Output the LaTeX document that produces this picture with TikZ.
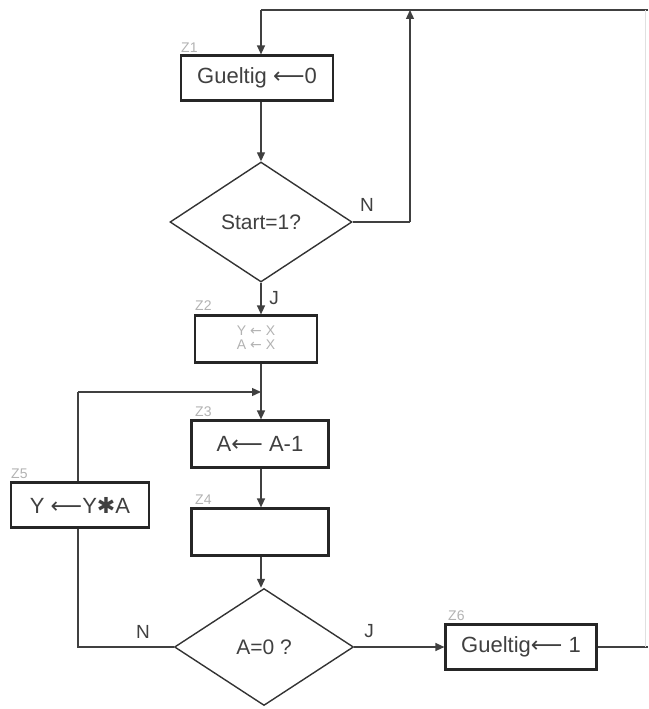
\documentclass[tikz,border=0pt]{standalone}
\usepackage{fontspec}
\setmainfont{Liberation Sans}
\newfontfamily\symfont{DejaVu Sans}
\usetikzlibrary{shapes.geometric,arrows.meta}
\newcommand{\larr}{{\symfont ⟵}}
\begin{document}
\begin{tikzpicture}[x=1pt,y=-1pt,
  box/.style={draw=black!85,line width=2.2pt,rectangle,inner sep=0pt,font=\fontsize{22}{24}\selectfont,text=black!75},
  dia/.style={draw=black!80,line width=1.4pt,diamond,inner sep=0pt,font=\fontsize{21}{22}\selectfont,text=black!75},
  conn/.style={draw=black!75,line width=1.3pt},
  arr/.style={conn,-{Triangle[length=9pt,width=8pt]}},
  zlab/.style={text=black!30,font=\fontsize{14}{14}\selectfont,anchor=south west,inner sep=0pt},
  yn/.style={text=black!75,font=\fontsize{19}{19}\selectfont,inner sep=0pt}]
\useasboundingbox (0,0) rectangle (648,709);
% boxes
\node[box,minimum width=152pt,minimum height=45pt] (z1) at (257,78) {Gueltig \larr0};
\node[dia,minimum width=182pt,minimum height=120pt] (d1) at (261,222) {Start=1?};
\node[box,minimum width=122pt,minimum height=47pt,font=\fontsize{14}{16}\selectfont,text=black!30] (z2) at (256,339) {\begin{tabular}{@{}c@{}}Y {\symfont←} X\\[-2pt]A {\symfont←} X\end{tabular}};
\node[box,minimum width=137pt,minimum height=47pt] (z3) at (260,444) {A\larr\ A-1};
\node[box,minimum width=137pt,minimum height=47pt] (z4) at (260,532) {};
\node[dia,minimum width=179pt,minimum height=117pt] (d2) at (264,647) {A=0 ?};
\node[box,minimum width=138pt,minimum height=45pt] (z5) at (80,505) {Y \larr Y{\symfont✱}A};
\node[box,minimum width=151pt,minimum height=45pt] (z6) at (521,647) {Gueltig\larr\ 1};
% labels
\node[zlab] (l1) at (181,53) {Z1};
\node[zlab] (l2) at (195,311) {Z2};
\node[zlab] (l3) at (195,417) {Z3};
\node[zlab] (l4) at (195,505) {Z4};
\node[zlab] (l5) at (11,479) {Z5};
\node[zlab] (l6) at (448,621) {Z6};
% coordinates
\coordinate (tl) at (261,10);
\coordinate (tm) at (410,10);
\coordinate (tr) at (648,10);
\coordinate (nr) at (410,222);
\coordinate (jn) at (261,392);
\coordinate (lt) at (78,392);
\coordinate (lb) at (78,647);
\coordinate (rb) at (648,647);
\coordinate (re) at (645,10);
\coordinate (reb) at (645,647);
% connectors
\draw[conn] (tr) -- (tl);
\draw[arr] (tl) -- (tl |- z1.north);
\draw[arr] (z1.south -| tl) -- (d1.north);
\draw[conn] (d1.east) -- (nr);
\draw[arr] (nr) -- (tm);
\draw[arr] (d1.south) -- (d1.south |- z2.north);
\draw[conn] (d1.south |- z2.south) -- (jn);
\draw[arr] (jn) -- (jn |- z3.north);
\draw[arr] (z3.south -| jn) -- (jn |- z4.north);
\draw[arr] (z4.south -| jn) -- (jn |- d2.north);
\draw[conn] (d2.west) -- (lb) -- (lb |- z5.south);
\draw[conn] (lt |- z5.north) -- (lt);
\draw[arr] (lt) -- (jn);
\draw[arr] (d2.east) -- (z6.west);
\draw[conn] (z6.east) -- (rb);
\draw[draw=black!12,line width=0.8pt] (re) -- (reb);
% Y/N labels
\node[yn] (n1) at (367,205) {N};
\node[yn] (j1) at (274,298) {J};
\node[yn] (n2) at (143,632) {N};
\node[yn] (j2) at (369,631) {J};
\end{tikzpicture}
\end{document}
